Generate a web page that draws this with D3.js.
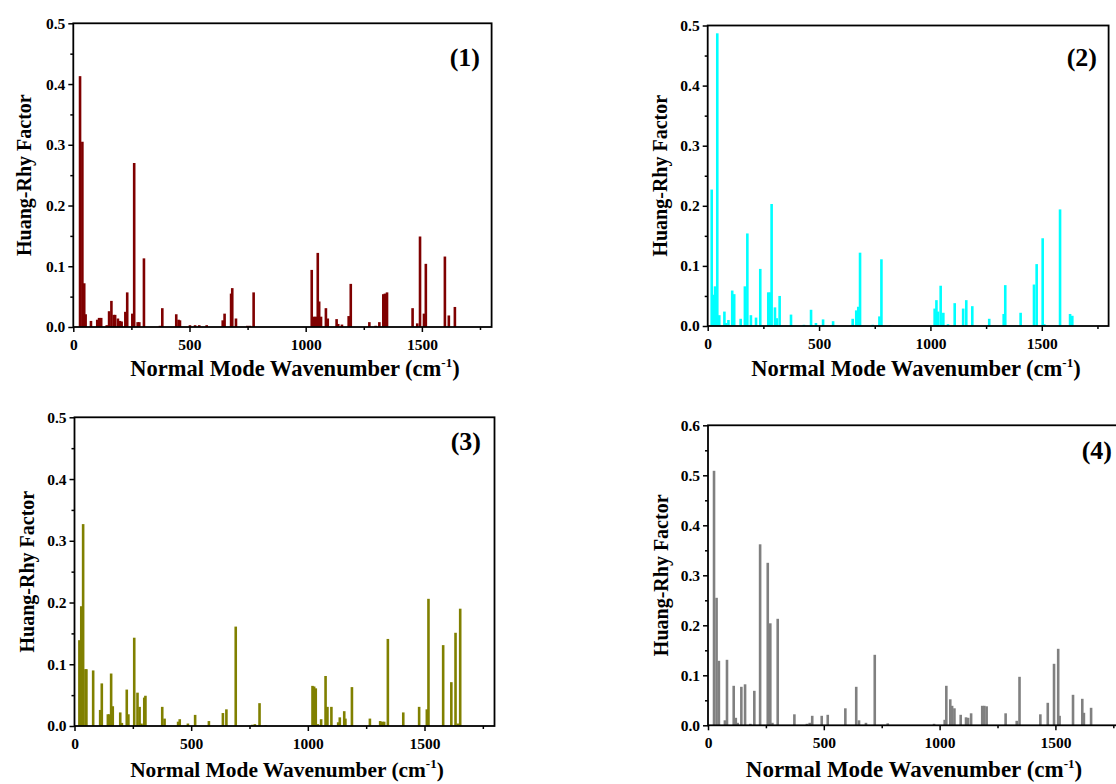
<!DOCTYPE html>
<html>
<head>
<meta charset="utf-8">
<script src="https://cdn.jsdelivr.net/npm/d3@7"></script>
<style>
  body { margin: 0; background: #fff; }
  svg  { display: block; font-family: "Liberation Serif", "Times New Roman", serif; font-weight: bold; }
</style>
</head>
<body>
<svg width="1116" height="784"></svg>
<script>

// [wavenumber (cm-1), Huang-Rhys factor]
const modes1 = [
  [29,0.413],[39,0.305],[47,0.072],[53,0.021],[76,0.010],[103,0.012],[111,0.015],[120,0.015],
  [144,0.003],[154,0.026],[164,0.043],[174,0.020],[180,0.020],[192,0.014],[201,0.010],[208,0.009],
  [224,0.025],[232,0.057],[254,0.022],[262,0.270],[277,0.008],[284,0.008],[304,0.113],[373,0.002],
  [383,0.031],[443,0.021],[453,0.012],[459,0.011],[502,0.003],[524,0.003],[542,0.003],[574,0.003],
  [643,0.011],[651,0.022],[679,0.055],[684,0.064],[700,0.014],[749,0.002],[760,0.002],[776,0.057],
  [1026,0.094],[1036,0.017],[1044,0.017],[1052,0.122],[1058,0.042],[1066,0.017],[1087,0.031],[1095,0.014],
  [1133,0.013],[1140,0.005],[1156,0.004],[1185,0.018],[1194,0.071],[1274,0.008],[1301,0.002],[1317,0.008],
  [1334,0.054],[1341,0.055],[1350,0.057],[1460,0.031],[1480,0.006],[1492,0.149],[1509,0.022],[1517,0.104],
  [1599,0.116],[1616,0.019],[1642,0.033]
];

const modes2 = [
  [18,0.227],[25,0.052],[33,0.066],[43,0.487],[52,0.018],[75,0.024],[82,0.005],[93,0.010],
  [110,0.059],[119,0.053],[148,0.012],[167,0.066],[178,0.154],[194,0.018],[217,0.014],[236,0.095],
  [272,0.056],[280,0.056],[287,0.203],[302,0.031],[310,0.013],[323,0.050],[374,0.019],[432,0.002],
  [464,0.027],[486,0.005],[518,0.011],[563,0.008],[651,0.012],[667,0.026],[676,0.032],[684,0.122],
  [741,0.002],[771,0.016],[780,0.111],[819,0.001],[1019,0.029],[1027,0.043],[1034,0.024],[1046,0.067],
  [1058,0.022],[1079,0.003],[1109,0.038],[1147,0.029],[1161,0.043],[1188,0.033],[1264,0.012],[1329,0.020],
  [1336,0.068],[1405,0.022],[1465,0.069],[1477,0.103],[1504,0.146],[1511,0.003],[1582,0.194],[1627,0.020],
  [1637,0.017]
];

const modes3 = [
  [21,0.139],[29,0.194],[37,0.327],[47,0.092],[51,0.092],[80,0.090],[110,0.026],[117,0.069],
  [143,0.019],[149,0.019],[157,0.085],[164,0.032],[196,0.022],[203,0.005],[224,0.059],[231,0.019],
  [256,0.143],[270,0.054],[279,0.031],[287,0.004],[299,0.046],[304,0.049],[376,0.031],[386,0.012],
  [444,0.007],[451,0.011],[486,0.004],[517,0.018],[576,0.008],[636,0.021],[651,0.027],[691,0.161],
  [762,0.002],[773,0.003],[793,0.037],[819,0.001],[1020,0.065],[1027,0.064],[1034,0.061],[1043,0.003],
  [1057,0.011],[1076,0.081],[1084,0.031],[1101,0.031],[1130,0.006],[1137,0.014],[1156,0.024],[1161,0.012],
  [1189,0.063],[1266,0.012],[1310,0.008],[1319,0.007],[1327,0.007],[1343,0.141],[1409,0.022],[1477,0.031],
  [1510,0.027],[1517,0.206],[1580,0.131],[1615,0.071],[1633,0.151],[1643,0.004],[1653,0.190]
];

const modes4 = [
  [26,0.509],[37,0.255],[47,0.129],[73,0.010],[82,0.131],[111,0.079],[120,0.015],[128,0.005],
  [144,0.077],[160,0.082],[183,0.003],[200,0.069],[225,0.362],[258,0.325],[269,0.204],[278,0.005],
  [301,0.213],[373,0.022],[427,0.003],[439,0.005],[450,0.019],[491,0.019],[517,0.021],[593,0.034],
  [640,0.077],[652,0.010],[682,0.005],[720,0.141],[776,0.004],[976,0.003],[1022,0.011],[1029,0.079],
  [1046,0.052],[1054,0.039],[1064,0.034],[1091,0.021],[1114,0.016],[1123,0.015],[1136,0.024],[1184,0.039],
  [1193,0.039],[1203,0.038],[1285,0.024],[1333,0.009],[1345,0.097],[1435,0.022],[1467,0.045],[1494,0.123],
  [1512,0.153],[1518,0.019],[1576,0.061],[1616,0.053],[1623,0.025],[1654,0.035]
];

const panelLabels = ["(1)", "(2)", "(3)", "(4)"];
const colors      = ["#7f0000", "#00ffff", "#808000", "#808080"];
const yMaxes      = [0.5, 0.5, 0.5, 0.6];
const xMajorTicks = [0, 500, 1000, 1500];
const xMinorTicks = [250, 750, 1250, 1750];
const xMax        = 1800;

// layout of each panel box (pixels)
const boxes = [
  { left: 73.3,  right: 491.6,  top: 23.3,  bottom: 327,
    labelX: 480,  labelY: 66,  titleX: 295, titleY: 376, titleSize: 22.5, yTitleX: 24 },
  { left: 707.7, right: 1108.6, top: 25.5,  bottom: 326,
    labelX: 1097, labelY: 66,  titleX: 916, titleY: 376, titleSize: 22.5, yTitleX: 660 },
  { left: 74.5,  right: 494.5,  top: 417.3, bottom: 726,
    labelX: 481,  labelY: 450, titleX: 287, titleY: 777, titleSize: 21.4, yTitleX: 27 },
  { left: 708,   right: 1124.9, top: 425.3, bottom: 725.3,
    labelX: 1112, labelY: 459, titleX: 914, titleY: 777, titleSize: 23,   yTitleX: 661 }
];

const allModes = [modes1, modes2, modes3, modes4];
const svg = d3.select("svg");
const barWidth = 2.6;

allModes.forEach(function(modes, i) {
  const b = boxes[i];
  const x = d3.scaleLinear().domain([0, xMax]).range([b.left, b.right]);
  const y = d3.scaleLinear().domain([0, yMaxes[i]]).range([b.bottom, b.top]);
  const g = svg.append("g").attr("class", "panel");

  // bars
  g.append("g").selectAll("rect")
    .data(modes)
    .enter()
    .append("rect")
    .attr("x", d => x(d[0]) - barWidth / 2)
    .attr("y", d => y(d[1]))
    .attr("width", barWidth)
    .attr("height", d => y(0) - y(d[1]))
    .attr("fill", colors[i]);

  // y ticks every 0.1, minor every 0.05
  const yMajor = d3.range(0, yMaxes[i] + 0.001, 0.1);
  const yMinor = yMajor.slice(0, -1).map(v => v + 0.05);

  g.append("g").attr("transform", `translate(0,${b.bottom})`)
    .call(d3.axisBottom(x).tickValues(xMajorTicks).tickSize(5).tickPadding(7).tickFormat(d3.format("d")));
  g.append("g").attr("transform", `translate(0,${b.bottom})`)
    .call(d3.axisBottom(x).tickValues(xMinorTicks).tickSize(3).tickFormat(""));
  g.append("g").attr("transform", `translate(${b.left},0)`)
    .call(d3.axisLeft(y).tickValues(yMajor).tickSize(5).tickPadding(3).tickFormat(d3.format(".1f")));
  g.append("g").attr("transform", `translate(${b.left},0)`)
    .call(d3.axisLeft(y).tickValues(yMinor).tickSize(3).tickFormat(""));

  g.selectAll(".domain").remove();
  g.selectAll(".tick line").attr("stroke", "#000").attr("stroke-width", 1.5);
  g.selectAll(".tick text")
    .attr("fill", "#000")
    .style("font-family", "Liberation Serif, Times New Roman, serif")
    .style("font-weight", "bold")
    .style("font-size", "15.5px");

  // frame
  g.append("rect")
    .attr("x", b.left).attr("y", b.top)
    .attr("width", b.right - b.left).attr("height", b.bottom - b.top)
    .attr("fill", "none").attr("stroke", "#000").attr("stroke-width", 1.8);

  // panel label
  g.append("text")
    .attr("x", b.labelX).attr("y", b.labelY)
    .attr("text-anchor", "end")
    .style("font-size", "26px")
    .text(panelLabels[i]);

  // x title with superscript
  const t = g.append("text")
    .attr("x", b.titleX).attr("y", b.titleY)
    .attr("text-anchor", "middle")
    .style("font-size", b.titleSize + "px");
  t.append("tspan").text("Normal Mode Wavenumber (cm");
  t.append("tspan").attr("dy", -9).style("font-size", "13px").text("-1");
  t.append("tspan").attr("dy", 9).text(")");

  // y title
  g.append("text")
    .attr("transform", `translate(${b.yTitleX},${(b.top + b.bottom) / 2}) rotate(-90)`)
    .attr("text-anchor", "middle")
    .attr("dy", "0.35em")
    .style("font-size", "20px")
    .text("Huang-Rhy Factor");
});
</script>
</body>
</html>
